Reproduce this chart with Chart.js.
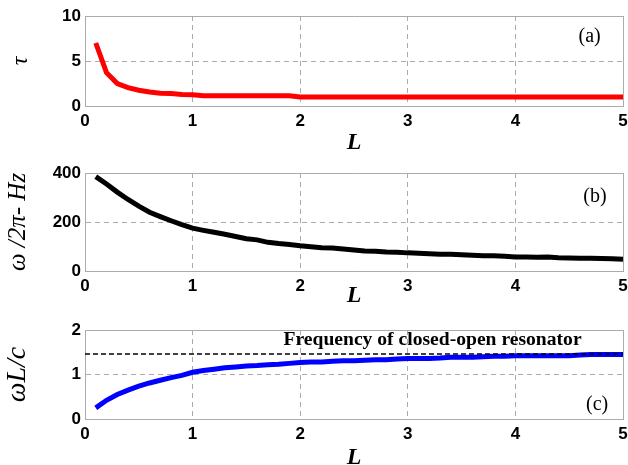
<!DOCTYPE html>
<html>
<head>
<meta charset="utf-8">
<script src="https://cdn.jsdelivr.net/npm/chart.js@4"></script>
<style>
  body { margin: 0; background: #fff; overflow: hidden; }
  #wrap { position: relative; width: 628px; height: 465px; overflow: hidden; }
  #wrap canvas { position: absolute; left: 0; }
</style>
</head>
<body>
<div id="wrap">
  <canvas id="panel-a" width="628" height="158" style="top:0px"></canvas>
  <canvas id="panel-b" width="628" height="152" style="top:158px"></canvas>
  <canvas id="panel-c" width="628" height="162" style="top:310px"></canvas>
</div>
<script>
// resonator length L
const lengths = [
  0.1, 0.2, 0.3, 0.4, 0.5, 0.6, 0.7, 0.8, 0.9, 1.0,
  1.1, 1.2, 1.3, 1.4, 1.5, 1.6, 1.7, 1.8, 1.9, 2.0,
  2.1, 2.2, 2.3, 2.4, 2.5, 2.6, 2.7, 2.8, 2.9, 3.0,
  3.1, 3.2, 3.3, 3.4, 3.5, 3.6, 3.7, 3.8, 3.9, 4.0,
  4.1, 4.2, 4.3, 4.4, 4.5, 4.6, 4.7, 4.8, 4.9, 5.0,
];

// (a) tau
const tau = [
  7.0, 3.7, 2.5, 2.05, 1.75, 1.55, 1.42, 1.38, 1.28, 1.25,
  1.15, 1.15, 1.15, 1.15, 1.15, 1.15, 1.15, 1.15, 1.15, 1.0,
  1.0, 1.0, 1.0, 1.0, 1.0, 1.0, 1.0, 1.0, 1.0, 1.0,
  1.0, 1.0, 1.0, 1.0, 1.0, 1.0, 1.0, 1.0, 1.0, 1.0,
  1.0, 1.0, 1.0, 1.0, 1.0, 1.0, 1.0, 1.0, 1.0, 1.0,
];

// (b) omega / 2pi in Hz
const freqHz = [
  385, 355, 322, 292, 265, 240, 222, 205, 189, 175,
  166, 158, 150, 141, 132, 127, 117, 112, 108, 103,
  99, 95, 94, 90, 86, 82, 81, 78, 77, 74,
  72, 70, 68, 68, 66, 64, 62, 62, 60, 57,
  57, 56, 57, 54, 53, 52, 52, 51, 50, 48,
];

// (c) omega L / c
const omegaLc = [
  0.25, 0.42, 0.55, 0.65, 0.74, 0.81, 0.87, 0.93, 0.98, 1.05,
  1.09, 1.12, 1.15, 1.17, 1.19, 1.20, 1.22, 1.23, 1.25, 1.27,
  1.28, 1.28, 1.30, 1.31, 1.31, 1.32, 1.33, 1.33, 1.35, 1.36,
  1.36, 1.36, 1.37, 1.39, 1.39, 1.39, 1.40, 1.41, 1.41, 1.42,
  1.42, 1.42, 1.42, 1.42, 1.42, 1.44, 1.45, 1.45, 1.45, 1.45,
];

// closed-open resonator level and the L range it spans
const resonatorLevel = 1.46;
const resonatorSpan = [0, 5];

const xTicks = [0, 1, 2, 3, 4, 5];
const yRanges = {
  a: { max: 10, step: 5 },
  b: { max: 400, step: 200 },
  c: { max: 2, step: 1 },
};

function points(ys) {
  return lengths.map((x, i) => ({ x: x, y: ys[i] }));
}

// writes panel tags and notes at data positions
const panelText = {
  id: "panelText",
  afterDatasetsDraw(chart, args, opts) {
    const { ctx, scales } = chart;
    (opts.items || []).forEach((t) => {
      ctx.save();
      ctx.font = t.font;
      ctx.fillStyle = "#000";
      ctx.textAlign = "center";
      ctx.textBaseline = "middle";
      ctx.fillText(t.text, scales.x.getPixelForValue(t.at[0]), scales.y.getPixelForValue(t.at[1]));
      ctx.restore();
    });
  },
};

function gridDash(ctx, max) {
  if (!ctx.tick) return [];
  const v = ctx.tick.value;
  return v > 0 && v < max ? [5, 4] : [];
}

function makePanel(id, datasets, range, yTitle, yTitleSize, layout, notes) {
  const tickFont = { family: "Liberation Sans", weight: "bold", size: 17 };
  return new Chart(document.getElementById(id), {
    type: "line",
    data: { datasets: datasets },
    plugins: [panelText],
    options: {
      responsive: false,
      animation: false,
      devicePixelRatio: 1,
      layout: { padding: { top: layout.top, right: 5, bottom: 0, left: 0 } },
      elements: { point: { radius: 0 }, line: { tension: 0 } },
      scales: {
        x: {
          type: "linear",
          min: 0,
          max: 5,
          afterBuildTicks: (scale) => {
            scale.ticks = xTicks.map((v) => ({ value: v }));
          },
          afterFit: (scale) => {
            scale.height = layout.xHeight;
            // let the last label run off the edge instead of shrinking the plot
            scale.paddingRight = 0;
          },
          grid: {
            color: "#ababab",
            drawTicks: false,
          },
          border: { color: "#ababab", dash: (ctx) => gridDash(ctx, 5) },
          ticks: { color: "#000", font: tickFont, padding: 5, maxRotation: 0 },
          title: {
            display: true,
            text: "L",
            color: "#000",
            font: { family: "Liberation Serif", style: "italic", weight: "bold", size: 24 },
            padding: { top: 0, bottom: layout.titlePad },
          },
        },
        y: {
          min: 0,
          max: range.max,
          afterFit: (scale) => {
            scale.width = 85;
          },
          grid: { color: "#ababab", drawTicks: false },
          border: { color: "#ababab", dash: (ctx) => gridDash(ctx, range.max) },
          ticks: { color: "#000", font: tickFont, padding: 4, stepSize: range.step },
          title: {
            display: true,
            text: yTitle,
            color: "#000",
            font: { family: "Liberation Serif", style: "italic", size: yTitleSize },
            padding: { top: layout.yTitlePad, bottom: 0 },
          },
        },
      },
      plugins: {
        legend: { display: false },
        tooltip: { enabled: false },
        panelText: { items: notes },
      },
    },
  });
}

const tagFont = "20px 'Liberation Serif'";

makePanel(
  "panel-a",
  [{ data: points(tau), borderColor: "#ff0000", borderWidth: 5 }],
  yRanges.a,
  "τ",
  24,
  { top: 16, xHeight: 52, titlePad: 1, yTitlePad: 6 },
  [{ text: "(a)", at: [4.69, 7.67], font: tagFont }]
);

makePanel(
  "panel-b",
  [{ data: points(freqHz), borderColor: "#000000", borderWidth: 5 }],
  yRanges.b,
  "ω /2π- Hz",
  25,
  { top: 15, xHeight: 39, titlePad: 0, yTitlePad: 3 },
  [{ text: "(b)", at: [4.74, 302], font: tagFont }]
);

makePanel(
  "panel-c",
  [
    {
      data: resonatorSpan.map((x) => ({ x: x, y: resonatorLevel })),
      borderColor: "#000000",
      borderWidth: 1.5,
      borderDash: [5, 3],
      order: 0,
    },
    { data: points(omegaLc), borderColor: "#0000ff", borderWidth: 5, order: 1 },
  ],
  yRanges.c,
  "ωL/c",
  28,
  { top: 20, xHeight: 53, titlePad: 0, yTitlePad: 1 },
  [
    { text: "(c)", at: [4.76, 0.31], font: tagFont },
    { text: "Frequency of closed-open resonator", at: [3.23, 1.78], font: "bold 19.6px 'Liberation Serif'" },
  ]
);
</script>
</body>
</html>
